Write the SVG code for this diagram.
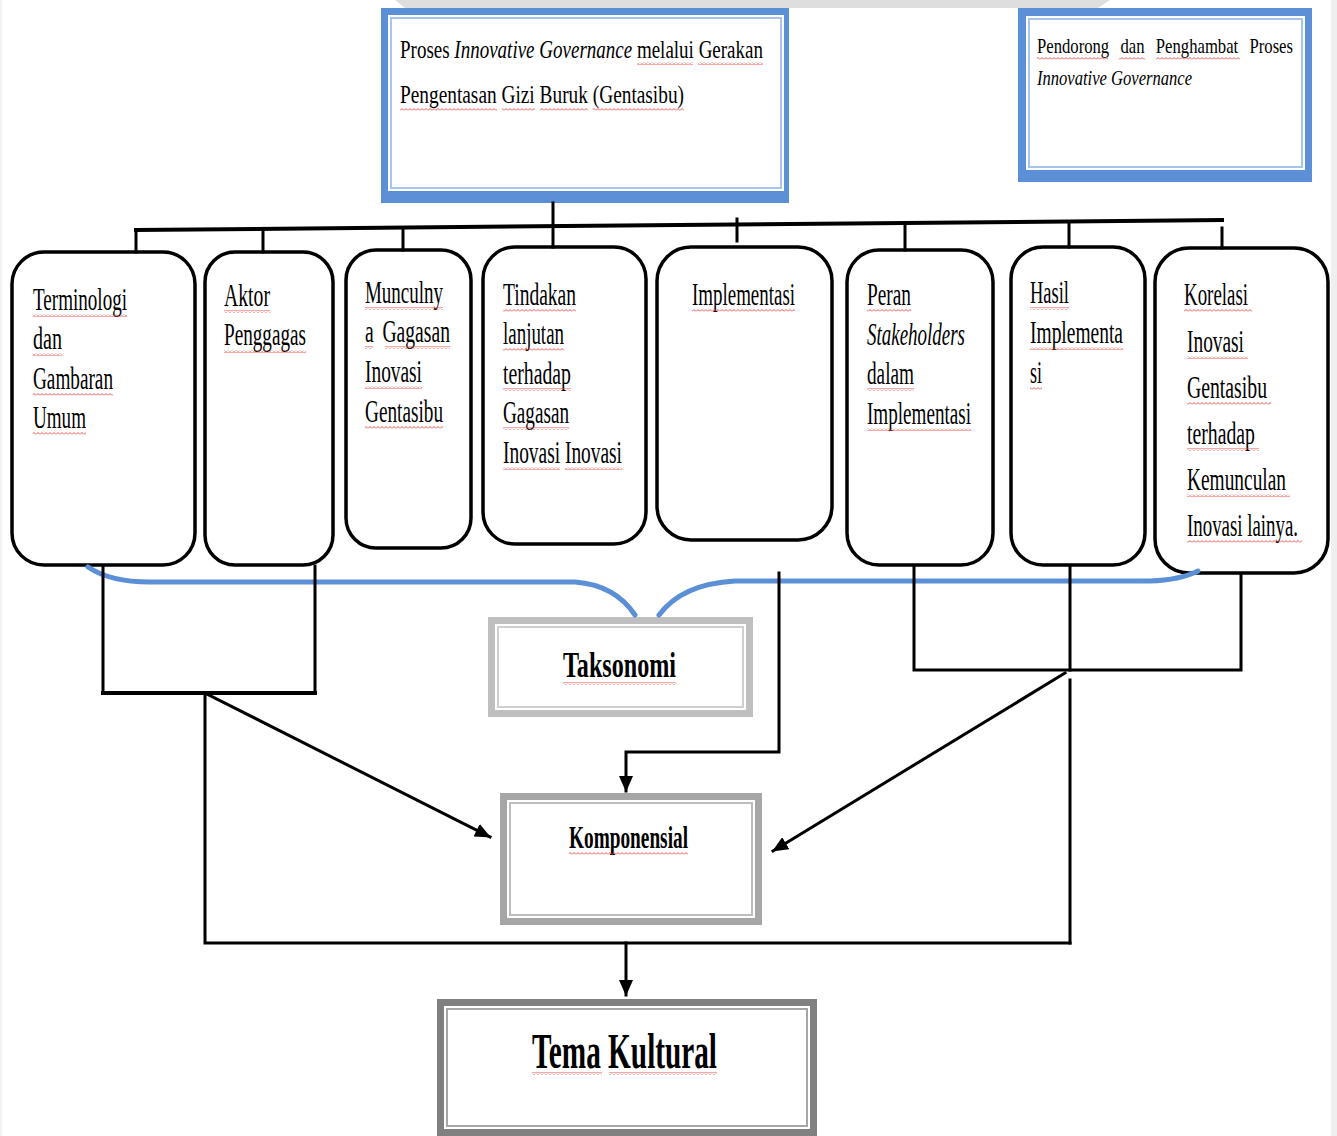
<svg xmlns="http://www.w3.org/2000/svg" width="1337" height="1136" viewBox="0 0 1337 1136">
<defs>
<style>
.t{font-family:"Liberation Serif","Times New Roman",serif;fill:#000}
.bx{font-size:31px}
.hd{font-size:25px}
.hd2{font-size:21px}
.it{font-style:italic}
.b{font-weight:bold}
.rb{fill:#fff;stroke:#000;stroke-width:3.5}
.ln{fill:none;stroke:#000;stroke-width:3;stroke-linecap:square}
.sq{fill:url(#sq)}
.blue{fill:none;stroke:#5b8fd6;stroke-width:5;stroke-linecap:round}
</style>
<pattern id="sq" width="4" height="3" patternUnits="userSpaceOnUse">
<path d="M0,2.5 L2,0.5 L4,2.5" fill="none" stroke="#e8403a" stroke-width="0.9"/>
</pattern>
<marker id="ah" markerWidth="16" markerHeight="14" refX="15" refY="7" orient="auto" markerUnits="userSpaceOnUse">
<path d="M0,0 L16,7 L0,14 z" fill="#000"/>
</marker>
</defs>
<rect width="1337" height="1136" fill="#fff"/>
<!-- faint watermark traces -->
<polygon points="395,0 1110,0 1098,8 405,8" fill="#dedede"/>
<rect x="1331" y="0" width="6" height="1136" fill="#efefef"/>
<rect x="0" y="0" width="2" height="1136" fill="#f2f2f2"/>

<g id="node-proses">
<rect x="381" y="8" width="408" height="195" fill="#5b8fd6"/>
<rect x="388" y="15" width="396" height="176" fill="#fff"/>
<rect x="391" y="18" width="390" height="170" fill="none" stroke="#a9c4ec" stroke-width="2"/>
<text class="t hd" x="400" y="58" textLength="363" lengthAdjust="spacingAndGlyphs">Proses <tspan class="it">Innovative Governance</tspan> melalui Gerakan</text>
<text class="t hd" x="400" y="103" textLength="284" lengthAdjust="spacingAndGlyphs">Pengentasan Gizi Buruk (Gentasibu)</text>
<rect class="sq" x="637" y="62" width="56" height="3"/>
<rect class="sq" x="698" y="62" width="65" height="3"/>
<rect class="sq" x="400" y="108" width="97" height="3"/>
<rect class="sq" x="502" y="108" width="33" height="3"/>
<rect class="sq" x="540" y="108" width="48" height="3"/>
<rect class="sq" x="593" y="108" width="91" height="3"/>
</g>

<g id="node-pendorong">
<rect x="1018" y="8" width="294" height="174" fill="#5b8fd6"/>
<rect x="1026" y="16" width="279" height="154" fill="#fff"/>
<rect x="1029" y="19" width="273" height="148" fill="none" stroke="#a9c4ec" stroke-width="2"/>
<text class="t hd2" x="1037" y="53" textLength="256" lengthAdjust="spacingAndGlyphs" style="word-spacing:9px">Pendorong dan Penghambat Proses</text>
<text class="t hd2 it" x="1037" y="85" textLength="155" lengthAdjust="spacingAndGlyphs">Innovative Governance</text>
<rect class="sq" x="1037" y="57" width="71" height="3"/>
<rect class="sq" x="1119" y="57" width="26" height="3"/>
<rect class="sq" x="1156" y="57" width="84" height="3"/>
</g>

<g id="node-terminologi">
<rect class="rb" x="12" y="252" width="183" height="313" rx="32"/>
<text class="t bx" x="33" y="310" textLength="94" lengthAdjust="spacingAndGlyphs">Terminologi</text>
<text class="t bx" x="33" y="349" textLength="29" lengthAdjust="spacingAndGlyphs">dan</text>
<text class="t bx" x="33" y="389" textLength="80" lengthAdjust="spacingAndGlyphs">Gambaran</text>
<text class="t bx" x="33" y="428" textLength="53" lengthAdjust="spacingAndGlyphs">Umum</text>
<rect class="sq" x="33" y="314" width="94" height="3"/>
<rect class="sq" x="33" y="353" width="29" height="3"/>
<rect class="sq" x="33" y="393" width="80" height="3"/>
<rect class="sq" x="33" y="432" width="53" height="3"/>
</g>

<g id="node-aktor">
<rect class="rb" x="205" y="252" width="128" height="313" rx="30"/>
<text class="t bx" x="224" y="306" textLength="46" lengthAdjust="spacingAndGlyphs">Aktor</text>
<text class="t bx" x="224" y="345" textLength="82" lengthAdjust="spacingAndGlyphs">Penggagas</text>
<rect class="sq" x="224" y="310" width="46" height="3"/>
<rect class="sq" x="224" y="350" width="82" height="3"/>
</g>

<g id="node-munculnya">
<rect class="rb" x="346" y="250" width="125" height="298" rx="30"/>
<text class="t bx" x="365" y="303" textLength="78" lengthAdjust="spacingAndGlyphs">Munculny</text>
<text class="t bx" x="365" y="342" textLength="85" lengthAdjust="spacingAndGlyphs" style="word-spacing:6px">a Gagasan</text>
<text class="t bx" x="365" y="382" textLength="57" lengthAdjust="spacingAndGlyphs">Inovasi</text>
<text class="t bx" x="365" y="422" textLength="78" lengthAdjust="spacingAndGlyphs">Gentasibu</text>
<rect class="sq" x="365" y="307" width="78" height="3"/>
<rect class="sq" x="365" y="346" width="8" height="3"/>
<rect class="sq" x="385" y="346" width="65" height="3"/>
<rect class="sq" x="365" y="386" width="57" height="3"/>
<rect class="sq" x="365" y="426" width="78" height="3"/>
</g>

<g id="node-tindakan">
<rect class="rb" x="483" y="247" width="163" height="297" rx="32"/>
<text class="t bx" x="503" y="305" textLength="73" lengthAdjust="spacingAndGlyphs">Tindakan</text>
<text class="t bx" x="503" y="344" textLength="61" lengthAdjust="spacingAndGlyphs">lanjutan</text>
<text class="t bx" x="503" y="384" textLength="68" lengthAdjust="spacingAndGlyphs">terhadap</text>
<text class="t bx" x="503" y="423" textLength="66" lengthAdjust="spacingAndGlyphs">Gagasan</text>
<text class="t bx" x="503" y="463" textLength="119" lengthAdjust="spacingAndGlyphs">Inovasi Inovasi</text>
<rect class="sq" x="503" y="309" width="73" height="3"/>
<rect class="sq" x="503" y="348" width="61" height="3"/>
<rect class="sq" x="503" y="388" width="68" height="3"/>
<rect class="sq" x="503" y="427" width="66" height="3"/>
<rect class="sq" x="503" y="467" width="57" height="3"/>
<rect class="sq" x="565" y="467" width="57" height="3"/>
</g>

<g id="node-implementasi">
<rect class="rb" x="657" y="247" width="175" height="293" rx="34"/>
<text class="t bx" x="692" y="305" textLength="103" lengthAdjust="spacingAndGlyphs">Implementasi</text>
<rect class="sq" x="692" y="309" width="103" height="3"/>
</g>

<g id="node-peran">
<rect class="rb" x="847" y="250" width="146" height="315" rx="32"/>
<text class="t bx" x="867" y="305" textLength="44" lengthAdjust="spacingAndGlyphs">Peran</text>
<text class="t bx it" x="867" y="345" textLength="98" lengthAdjust="spacingAndGlyphs">Stakeholders</text>
<text class="t bx" x="867" y="384" textLength="47" lengthAdjust="spacingAndGlyphs">dalam</text>
<text class="t bx" x="867" y="424" textLength="104" lengthAdjust="spacingAndGlyphs">Implementasi</text>
<rect class="sq" x="867" y="309" width="44" height="3"/>
<rect class="sq" x="867" y="388" width="47" height="3"/>
<rect class="sq" x="867" y="428" width="104" height="3"/>
</g>

<g id="node-hasil">
<rect class="rb" x="1011" y="247" width="134" height="318" rx="32"/>
<text class="t bx" x="1030" y="303" textLength="39" lengthAdjust="spacingAndGlyphs">Hasil</text>
<text class="t bx" x="1030" y="343" textLength="93" lengthAdjust="spacingAndGlyphs">Implementa</text>
<text class="t bx" x="1030" y="383" textLength="12" lengthAdjust="spacingAndGlyphs">si</text>
<rect class="sq" x="1030" y="307" width="39" height="3"/>
<rect class="sq" x="1030" y="347" width="93" height="3"/>
<rect class="sq" x="1030" y="387" width="12" height="3"/>
</g>

<g id="node-korelasi">
<rect class="rb" x="1155" y="248" width="173" height="325" rx="34"/>
<text class="t bx" x="1184" y="305" textLength="64" lengthAdjust="spacingAndGlyphs">Korelasi</text>
<text class="t bx" x="1187" y="352" textLength="57" lengthAdjust="spacingAndGlyphs">Inovasi</text>
<text class="t bx" x="1187" y="398" textLength="80" lengthAdjust="spacingAndGlyphs">Gentasibu</text>
<text class="t bx" x="1187" y="444" textLength="68" lengthAdjust="spacingAndGlyphs">terhadap</text>
<text class="t bx" x="1187" y="490" textLength="99" lengthAdjust="spacingAndGlyphs">Kemunculan</text>
<text class="t bx" x="1187" y="536" textLength="111" lengthAdjust="spacingAndGlyphs">Inovasi lainya.</text>
<rect class="sq" x="1184" y="309" width="68" height="3"/>
<rect class="sq" x="1187" y="356" width="61" height="3"/>
<rect class="sq" x="1187" y="402" width="84" height="3"/>
<rect class="sq" x="1187" y="448" width="72" height="3"/>
<rect class="sq" x="1187" y="494" width="103" height="3"/>
<rect class="sq" x="1187" y="540" width="115" height="3"/>
</g>

<g id="node-taksonomi">
<rect x="488" y="617" width="265" height="100" fill="#bfbfbf"/>
<rect x="495" y="624" width="251" height="86" fill="#fff"/>
<rect x="498" y="627" width="245" height="80" fill="none" stroke="#cfcfcf" stroke-width="2"/>
<text class="t b" style="font-size:36px" x="563" y="677" textLength="113" lengthAdjust="spacingAndGlyphs">Taksonomi</text>
<rect class="sq" x="563" y="682" width="113" height="3"/>
</g>

<g id="node-komponensial">
<rect x="500" y="793" width="262" height="132" fill="#a6a6a6"/>
<rect x="507" y="800" width="248" height="118" fill="#fff"/>
<rect x="510" y="803" width="242" height="112" fill="none" stroke="#bdbdbd" stroke-width="2"/>
<text class="t b" style="font-size:32px" x="569" y="848" textLength="119" lengthAdjust="spacingAndGlyphs">Komponensial</text>
<rect class="sq" x="569" y="852" width="119" height="3"/>
</g>

<g id="node-tema">
<rect x="437" y="999" width="380" height="137" fill="#808080"/>
<rect x="444" y="1006" width="366" height="123" fill="#fff"/>
<rect x="447" y="1009" width="360" height="117" fill="none" stroke="#a6a6a6" stroke-width="2"/>
<text class="t b" style="font-size:50px" x="532" y="1068" textLength="185" lengthAdjust="spacingAndGlyphs">Tema Kultural</text>
<rect class="sq" x="532" y="1072" width="70" height="3"/>
<rect class="sq" x="609" y="1072" width="108" height="3"/>
</g>

<g id="connectors">
<path class="blue" d="M88,567 Q110,582 150,582 L575,582 Q615,585 635,615"/>
<path class="blue" d="M659,615 Q682,584 735,581 L1150,581 Q1180,580 1198,571"/>
<path class="ln" d="M136,230 L1222,220" style="stroke-width:4"/>
<path class="ln" d="M553,203 L553,247"/>
<path class="ln" d="M136,230 L136,252"/>
<path class="ln" d="M263,229 L263,252"/>
<path class="ln" d="M403,228 L403,250"/>
<path class="ln" d="M737,219 L737,241"/>
<path class="ln" d="M905,223 L905,250"/>
<path class="ln" d="M1069,222 L1069,247"/>
<path class="ln" d="M1222,228 L1222,248"/>
<path class="ln" d="M103,566 L103,693 L315,693 L315,566"/>
<path class="ln" d="M103,693 L315,693" style="stroke-width:4"/>
<path class="ln" d="M205,693 L490,837" marker-end="url(#ah)"/>
<path class="ln" d="M205,693 L205,943 L1070,943"/>
<path class="ln" d="M779,573 L779,752 L626,752 L626,791" marker-end="url(#ah)"/>
<path class="ln" d="M914,566 L914,670 L1241,670 L1241,574"/>
<path class="ln" d="M1070,566 L1070,670"/>
<path class="ln" d="M1065,673 L773,851" marker-end="url(#ah)"/>
<path class="ln" d="M1070,680 L1070,943"/>
<path class="ln" d="M626,943 L626,995" marker-end="url(#ah)"/>
</g>
</svg>
